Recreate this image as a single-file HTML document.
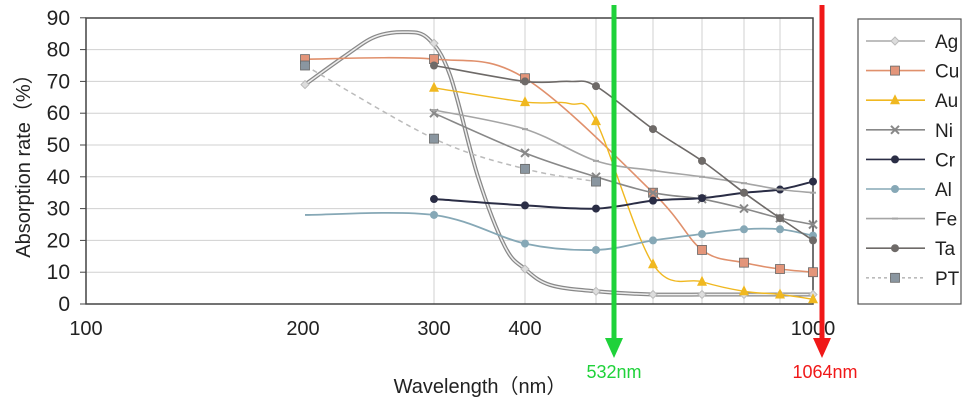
<!DOCTYPE html><html><head><meta charset="utf-8"><style>
body{margin:0;background:#fff}svg{display:block}
text{font-family:"Liberation Sans","Noto Sans CJK JP",sans-serif}
</style></head><body>
<svg id="s" width="973" height="408" xmlns="http://www.w3.org/2000/svg">
<g id="grid" stroke="#d0d0d0" stroke-width="1"></g>
<rect x="86" y="18" width="727" height="286" fill="none" stroke="#444" stroke-width="1.5"/>
<g font-size="21" fill="#222" text-anchor="end" id="yl"></g>
<g font-size="20" fill="#222" text-anchor="middle">
<text x="86" y="335">100</text><text x="303" y="335">200</text><text x="434" y="335">300</text><text x="525" y="335">400</text><text x="813" y="335">1000</text>
<text x="480" y="393">Wavelength（nm）</text>
<text transform="translate(30,161) rotate(-90)">Absorption rate（%）</text>
</g>
<g id="series"></g>
<rect x="858" y="19" width="103" height="285" fill="#fff" stroke="#555" stroke-width="1.2"/>
<g id="leg"></g>
<line x1="614" y1="5" x2="614" y2="340" stroke="#1fd23a" stroke-width="5"/>
<polygon points="605,338 623,338 614,358" fill="#1fd23a"/>
<text x="614" y="378" font-size="18" fill="#1fd23a" text-anchor="middle">532nm</text>
<line x1="822" y1="5" x2="822" y2="340" stroke="#f01818" stroke-width="5"/>
<polygon points="813,338 831,338 822,358" fill="#f01818"/>
<text x="825" y="378" font-size="18" fill="#f01818" text-anchor="middle">1064nm</text>
</svg>
<script>
var NS="http://www.w3.org/2000/svg";
function el(p,t,a){var e=document.createElementNS(NS,t);for(var k in a)e.setAttribute(k,a[k]);p.appendChild(e);return e;}
var Y=function(v){return 304-v*3.18};
var g=document.getElementById('grid'),yl=document.getElementById('yl');
for(var v=10;v<=80;v+=10)el(g,'line',{x1:86,x2:813,y1:Y(v),y2:Y(v)});
[434,525,596,653,702,744,780].forEach(function(x){el(g,'line',{x1:x,x2:x,y1:18,y2:304});});
for(var v=0;v<=90;v+=10){var t=el(yl,'text',{x:70,y:Y(v)+7});t.textContent=v;el(g,'line',{x1:80,x2:86,y1:Y(v),y2:Y(v),stroke:'#444'});}
function path(p){var d='M'+p[0][0]+','+p[0][1];for(var i=0;i<p.length-1;i++){var p0=p[i-1]||p[i],p1=p[i],p2=p[i+1],p3=p[i+2]||p2;
d+=' C'+(p1[0]+(p2[0]-p0[0])/6)+','+(p1[1]+(p2[1]-p0[1])/6)+' '+(p2[0]-(p3[0]-p1[0])/6)+','+(p2[1]-(p3[1]-p1[1])/6)+' '+p2[0]+','+p2[1];}return d;}
function mk(p,x,y,type,c){if(type=='d')el(p,'polygon',{points:(x-4)+','+y+' '+x+','+(y-4)+' '+(x+4)+','+y+' '+x+','+(y+4),fill:'#ddd',stroke:'#bbb'});
else if(type=='s')el(p,'rect',{x:x-4.5,y:y-4.5,width:9,height:9,fill:c,stroke:'#666','stroke-width':0.8});
else if(type=='t')el(p,'polygon',{points:(x-5)+','+(y+4)+' '+(x+5)+','+(y+4)+' '+x+','+(y-6),fill:c});
else if(type=='x'){el(p,'path',{d:'M'+(x-4)+','+(y-4)+'L'+(x+4)+','+(y+4)+'M'+(x+4)+','+(y-4)+'L'+(x-4)+','+(y+4),stroke:c,'stroke-width':2});}
else if(type=='c')el(p,'circle',{cx:x,cy:y,r:4,fill:c});
else if(type=='dash')el(p,'line',{x1:x-3,x2:x+3,y1:y,y2:y,stroke:c,'stroke-width':2});}
var S=[
['Ag','#a8a8a8','d',[[305,69],[345,78],[375,84],[405,85.5],[428,83.5],[450,72],[478,40],[505,18],[525,11],[550,6],[596,4],[653,3],[702,3],[744,3],[780,3],[813,3]],3.5],
['Cu','#e0906c','s',[[305,77],[434,77],[525,71],[653,35],[702,17],[744,13],[780,11],[813,10]],1.6,'#e3957a'],
['Au','#f0b820','t',[[434,68],[525,63.5],[570,63],[596,57.5],[653,12.5],[702,7],[744,4],[780,3],[813,1.5]],1.4],
['Ni','#888','x',[[434,60],[525,47.5],[596,40],[653,35],[702,33],[744,30],[780,27],[813,25]],1.6],
['Cr','#2a2d45','c',[[434,33],[525,31],[596,30],[653,32.5],[702,33.3],[744,35],[780,36],[813,38.5]],2],
['Al','#86a8b6','c',[[305,28],[434,28],[525,19],[596,17],[653,20],[702,22],[744,23.5],[780,23.5],[813,21.5]],1.8],
['Fe','#a5a5a5','dash',[[434,61],[525,55],[596,45],[653,42],[702,40],[744,38],[780,36],[813,35]],1.6],
['Ta','#6e6a68','c',[[434,75],[525,70],[570,70],[596,68.5],[653,55],[702,45],[744,35],[780,27],[813,20]],1.6],
['PT','#bbb','s',[[305,75],[434,52],[525,42.5],[596,38.5]],1.5,'#8a96a0']];
var mkX={Ag:[305,434,525,596,653,702,744,780,813]};
var sg=document.getElementById('series'),lg=document.getElementById('leg');
S.forEach(function(s,i){var pts=s[3].map(function(p){return [p[0],Y(p[1])]});
var a={d:path(pts),fill:'none',stroke:s[1],'stroke-width':s[4]};if(s[0]=='PT')a['stroke-dasharray']='5,4';
if(s[0]=='Ag'){el(sg,'path',{d:a.d,fill:'none',stroke:'#888','stroke-width':4});a.stroke='#eee';a['stroke-width']=1.5;}
el(sg,'path',a);
if(s[0]=='Ag'){[[305,69],[434,82],[525,11],[596,4],[653,3],[702,3],[744,3],[780,3],[813,3]].forEach(function(p){mk(sg,p[0],Y(p[1]),'d');});}
else s[3].forEach(function(p,j){if(s[0]=='Al'&&j==0)return;if((s[0]=='Au'||s[0]=='Ta')&&p[0]==570)return;mk(sg,p[0],Y(p[1]),s[2],s[5]||s[1]);});
var ly=41+i*29.6;var la={x1:866,x2:925,y1:ly,y2:ly,stroke:s[1],'stroke-width':1.6};if(s[0]=='PT')la['stroke-dasharray']='3,3';
el(lg,'line',la);mk(lg,895,ly,s[2],s[5]||s[1]);var t=el(lg,'text',{x:935,y:ly+7,'font-size':19,fill:'#222'});t.textContent=s[0];});
</script>
</body></html>
